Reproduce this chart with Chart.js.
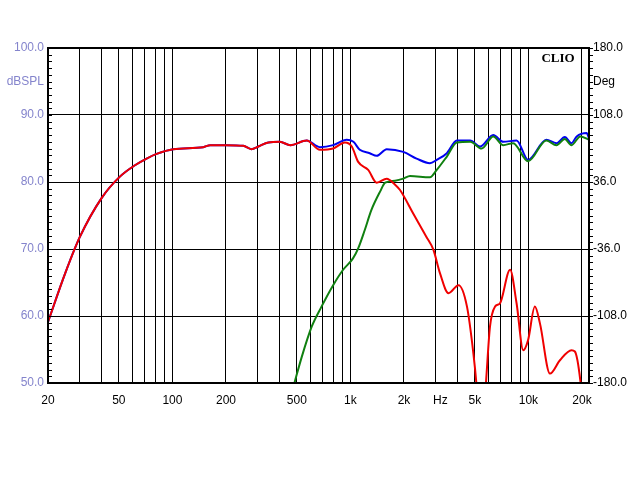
<!DOCTYPE html>
<html>
<head>
<meta charset="utf-8">
<script src="https://cdn.jsdelivr.net/npm/chart.js@4"></script>
<style>
  body { margin: 0; background: #fff; }
  canvas { display: block; }
</style>
</head>
<body>
<canvas id="clioChart" width="640" height="480"></canvas>
<script>
// frequency response readings (Hz / dB SPL)
const redFreq = [20, 25, 30.2, 40, 50.7, 61.6, 71.6, 81.5, 101, 149, 163, 201, 250, 278, 304, 346, 401, 460, 568, 674, 800, 932, 1018, 1106, 1259, 1405, 1600, 1783, 1900, 2253, 2674, 2924, 3185, 3556, 4051, 4518, 4909, 5100, 5420, 5775, 6083, 6492, 6925, 7888, 8581, 9352, 9960, 10870, 11610, 13220, 15040, 17460, 18240, 19570, 20840];
const redDb = [59.1, 66.4, 71.8, 77.6, 80.8, 82.5, 83.5, 84.2, 84.9, 85.2, 85.5, 85.5, 85.4, 84.9, 85.3, 85.9, 86.0, 85.5, 86.2, 84.8, 85.0, 85.9, 85.3, 83.0, 81.8, 79.9, 80.5, 79.6, 78.8, 75.3, 71.8, 69.9, 66.4, 63.4, 64.6, 61.4, 54.4, 50.0, 40.0, 50.0, 58.4, 61.4, 61.9, 66.9, 61.9, 54.9, 56.4, 61.4, 58.9, 51.4, 53.4, 54.9, 54.7, 50.4, 42.0];

const blueFreq = [20, 25, 30.2, 40, 50.7, 61.6, 71.6, 81.5, 101, 149, 163, 201, 250, 278, 304, 346, 401, 460, 568, 674, 800, 953, 1040, 1129, 1284, 1405, 1600, 1982, 2353, 2798, 3055, 3482, 3963, 4711, 5346, 6345, 7224, 8581, 9960, 12610, 14375, 16015, 17460, 18670, 21250, 21900];
const blueDb = [59.1, 66.4, 71.8, 77.6, 80.8, 82.5, 83.5, 84.2, 84.9, 85.2, 85.5, 85.5, 85.4, 84.9, 85.3, 85.9, 86.0, 85.5, 86.2, 85.2, 85.5, 86.3, 86.0, 84.8, 84.3, 83.9, 84.9, 84.5, 83.5, 82.8, 83.3, 84.3, 86.2, 86.2, 85.3, 87.0, 86.0, 86.2, 83.3, 86.3, 85.8, 86.7, 85.8, 86.8, 87.3, 86.5];

const greenFreq = [440, 487, 533, 606, 688, 800, 910, 1034, 1106, 1203, 1311, 1470, 1568, 1783, 1982, 2161, 2798, 3055, 3482, 3963, 4711, 5460, 6345, 7224, 8210, 9960, 12610, 14375, 16015, 17460, 19570, 21900];
const greenDb = [46.0, 50.2, 53.9, 58.4, 61.4, 64.6, 66.9, 68.6, 70.1, 72.8, 75.8, 78.6, 79.9, 80.2, 80.5, 80.9, 80.7, 81.8, 83.8, 85.9, 86.0, 85.0, 86.8, 85.5, 85.8, 83.1, 86.2, 85.5, 86.4, 85.5, 86.8, 86.3];

// axis ticks
const xTicks = [20, 30, 40, 50, 60, 70, 80, 90, 100, 200, 300, 400, 500, 600, 700, 800, 900,
  1000, 2000, 3000, 4000, 5000, 6000, 7000, 8000, 9000, 10000, 20000];
const xLabels = {20: '20', 50: '50', 100: '100', 200: '200', 500: '500', 1000: '1k',
  2000: '2k', 3000: '   Hz', 5000: '5k', 10000: '10k', 20000: '20k'};
const dbTicks = [50, 60, 70, 80, 90, 95, 100];
const degTicks = [-180, -108, -36, 36, 108, 144, 180];

const toPoints = (fs, vs) => fs.map((f, i) => ({x: f, y: vs[i]}));

const framePlugin = {
  id: 'frame',
  afterDraw(chart) {
    const ctx = chart.ctx;
    const a = chart.chartArea;
    const ys = chart.scales.y;
    ctx.save();
    ctx.strokeStyle = '#000';
    ctx.lineWidth = 1;
    ctx.beginPath();
    for (let v = 50; v <= 100; v++) {
      const py = Math.round(ys.getPixelForValue(v)) + 0.5;
      ctx.moveTo(a.left, py); ctx.lineTo(a.left + 4, py);
      ctx.moveTo(a.right, py); ctx.lineTo(a.right + 4, py);
    }
    ctx.stroke();
    ctx.lineWidth = 2;
    ctx.strokeRect(a.left, a.top, a.right - a.left, a.bottom - a.top);
    ctx.fillStyle = '#000';
    ctx.font = 'bold 13px "Liberation Serif", "DejaVu Serif", serif';
    ctx.textAlign = 'center';
    ctx.textBaseline = 'alphabetic';
    ctx.fillText('CLIO', 558, 62);
    ctx.restore();
  }
};

const labelFont = {family: '"Liberation Sans", Arial, sans-serif', size: 12};

new Chart(document.getElementById('clioChart'), {
  type: 'line',
  data: {
    datasets: [
      {data: toPoints(redFreq, redDb), borderColor: '#f00000', borderWidth: 2, yAxisID: 'y'},
      {data: toPoints(greenFreq, greenDb), borderColor: '#108010', borderWidth: 2, yAxisID: 'y'},
      {data: toPoints(blueFreq, blueDb), borderColor: '#0000f0', borderWidth: 2, yAxisID: 'y'}
    ]
  },
  options: {
    responsive: false,
    animation: false,
    devicePixelRatio: 1,
    layout: {padding: {top: 48, left: 0, right: 0, bottom: 0}},
    elements: {
      point: {radius: 0},
      line: {cubicInterpolationMode: 'monotone', fill: false}
    },
    datasets: {line: {clip: 0}},
    plugins: {legend: {display: false}, tooltip: {enabled: false}},
    scales: {
      x: {
        type: 'logarithmic',
        position: 'bottom',
        min: 20,
        max: 21900,
        afterBuildTicks: s => { s.ticks = xTicks.map(v => ({value: v})); },
        afterFit: s => { s.height = 97; },
        grid: {color: '#000', lineWidth: 1, drawTicks: false},
        border: {display: false},
        ticks: {
          color: '#000', font: labelFont, padding: 10,
          autoSkip: false, maxRotation: 0, minRotation: 0,
          callback: v => xLabels[v] || ''
        }
      },
      y: {
        position: 'left',
        min: 50,
        max: 100,
        afterBuildTicks: s => { s.ticks = dbTicks.map(v => ({value: v})); },
        afterFit: s => { s.width = 48; },
        grid: {
          color: c => (c.tick && c.tick.value === 95) ? 'rgba(0,0,0,0)' : '#000',
          lineWidth: 1, drawTicks: false
        },
        border: {display: false},
        ticks: {
          color: '#8484cc', font: labelFont, padding: 4,
          callback: v => v === 95 ? 'dBSPL' : v.toFixed(1)
        }
      },
      y1: {
        position: 'right',
        min: -180,
        max: 180,
        afterBuildTicks: s => { s.ticks = degTicks.map(v => ({value: v})); },
        afterFit: s => { s.width = 51; },
        grid: {drawOnChartArea: false, drawTicks: false},
        border: {display: false},
        ticks: {
          color: '#000', font: labelFont, padding: 4,
          callback: v => v === 144 ? 'Deg' : v.toFixed(1)
        }
      }
    }
  },
  plugins: [framePlugin]
});
</script>
</body>
</html>
